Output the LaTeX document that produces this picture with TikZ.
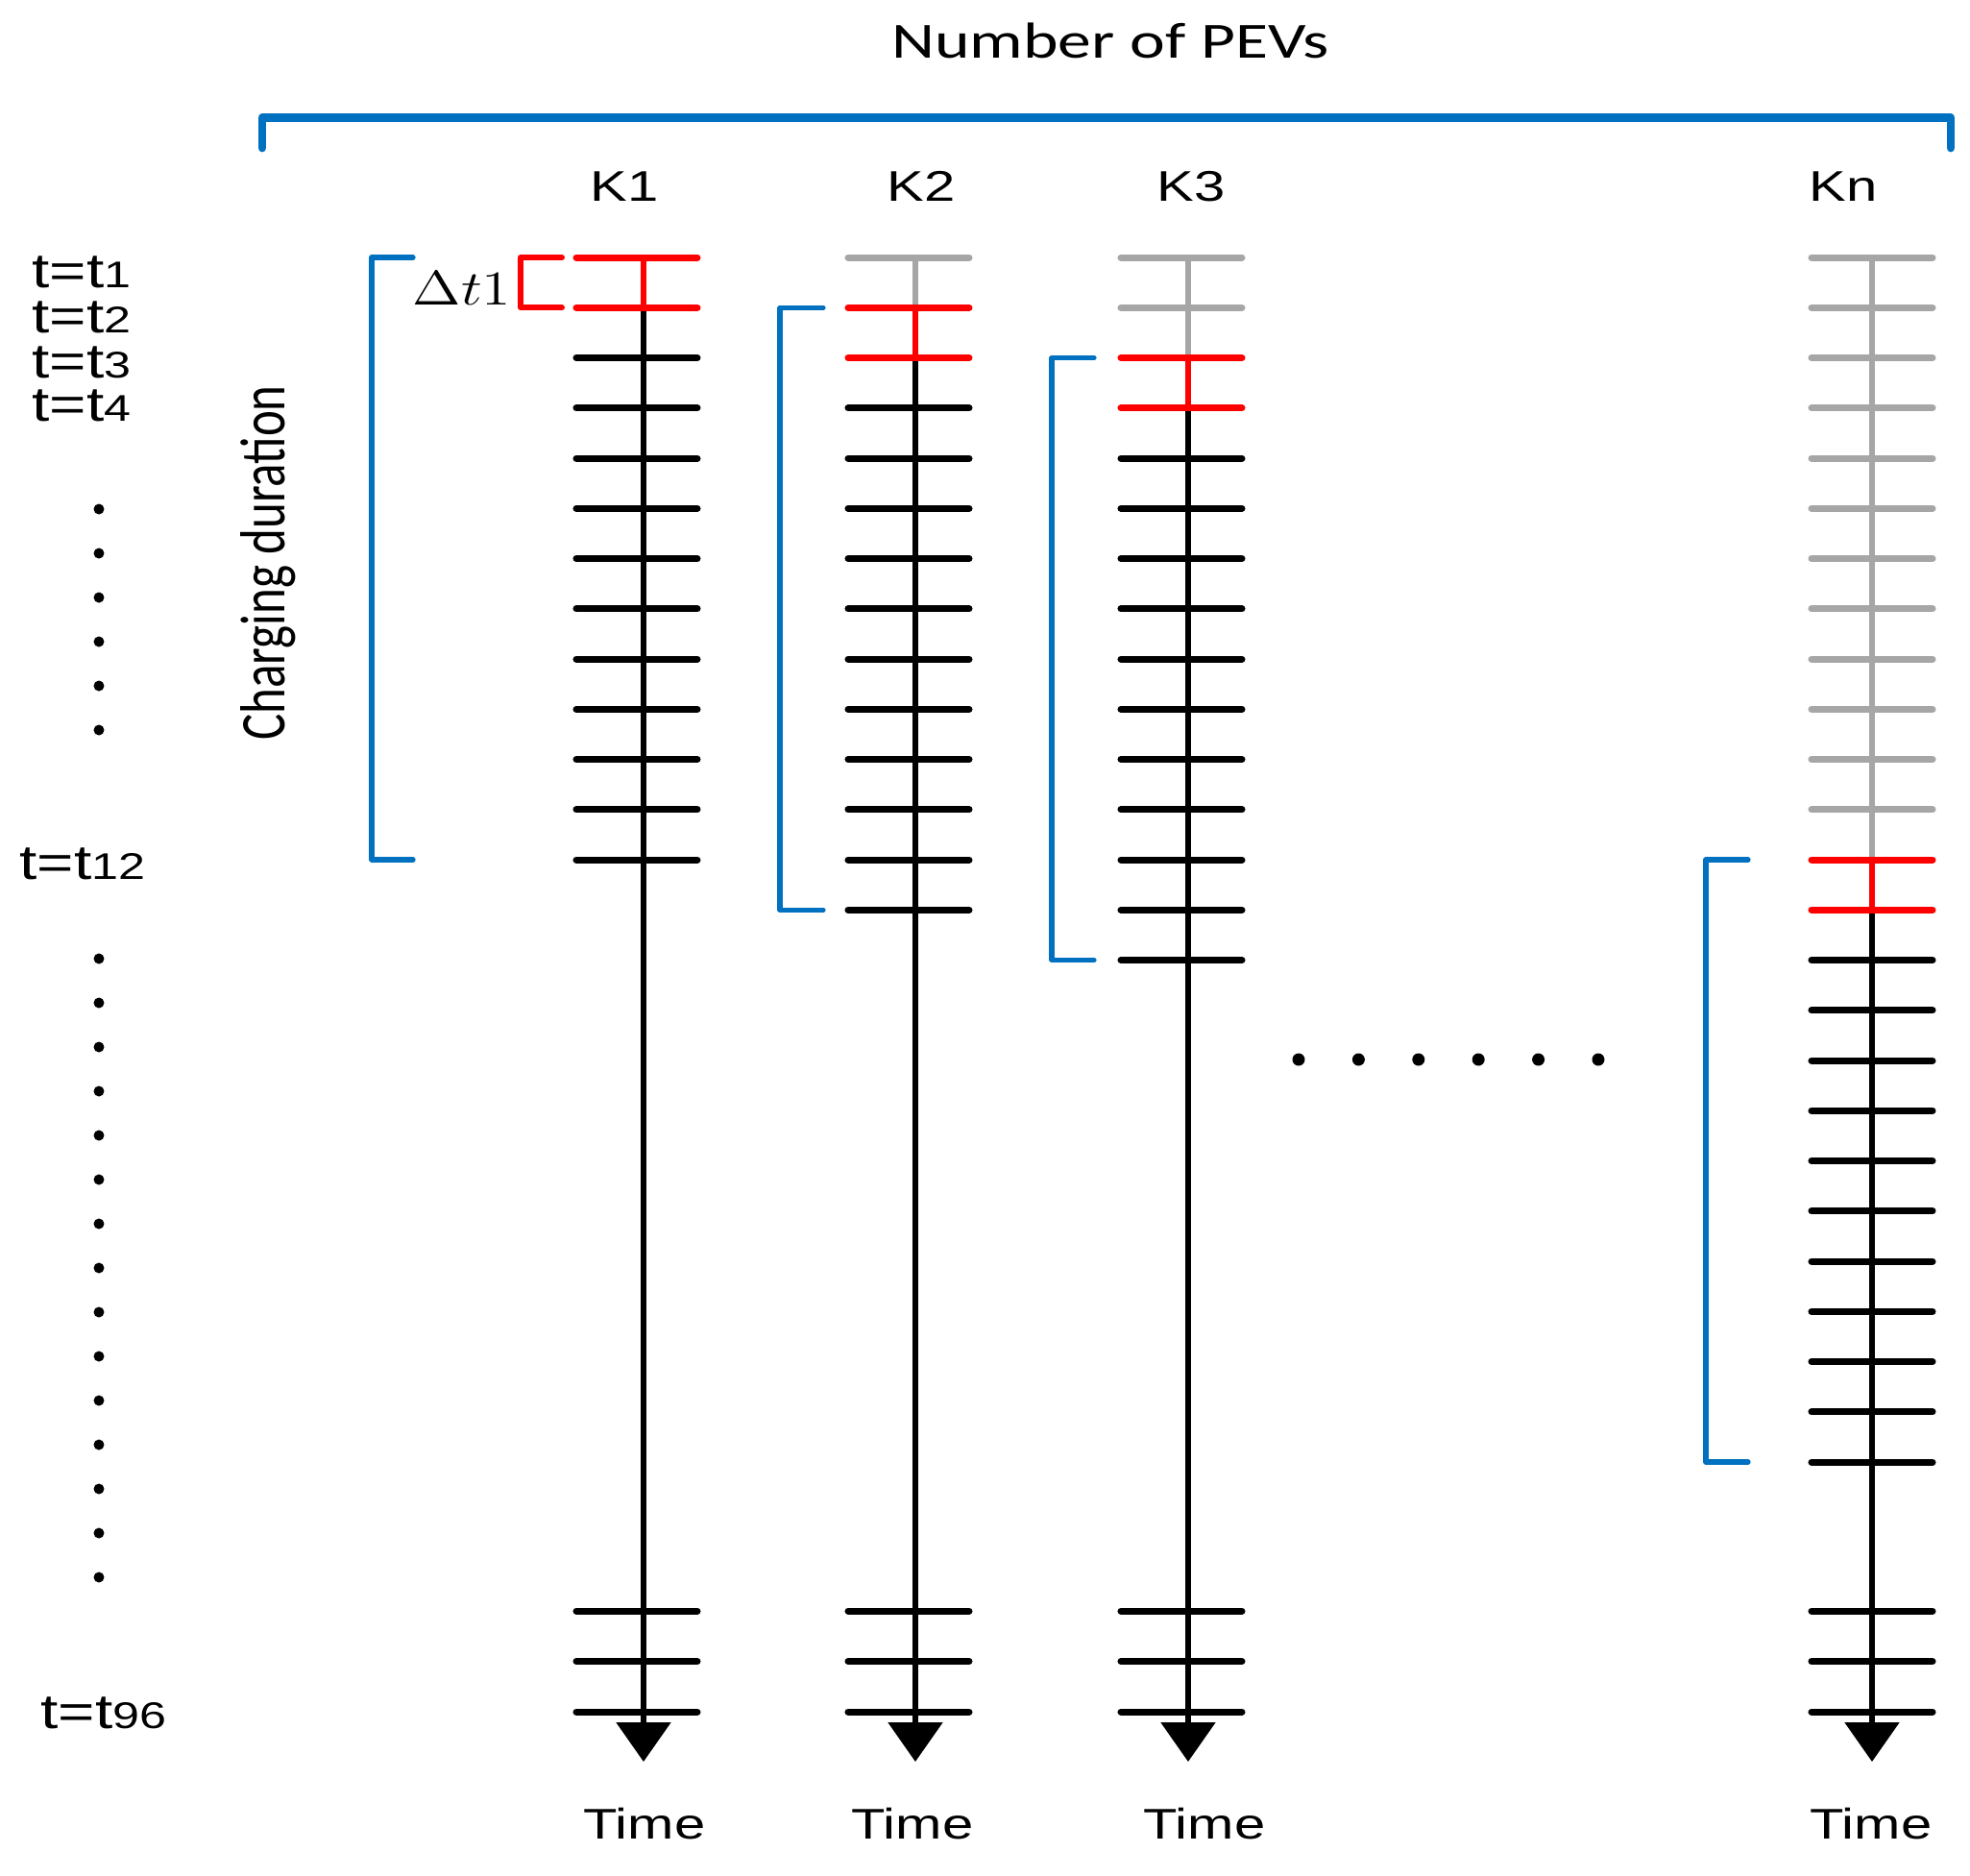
\documentclass[tikz,border=0pt]{standalone}
\usepackage{fontspec}
\usepackage{graphicx}
\usepackage{amsmath}
\setmainfont{Liberation Sans}
\newfontfamily\arialwide[FakeStretch=1.3]{Liberation Sans}
\newfontfamily\calwide[FakeStretch=1.32]{Carlito}
\newfontfamily\calfont{Carlito}
\usetikzlibrary{arrows.meta}

\definecolor{pevblue}{RGB}{0,112,192}
\definecolor{idlegray}{RGB}{166,166,166}

\tikzset{
    slot/.style={line width=2pt, line cap=round},
    timeline/.style={line width=1.6pt},
    span/.style={pevblue, line width=1.5pt, line cap=round, line join=round},
    evlabel/.style={font=\arialwide\fontsize{12.7}{15}\selectfont},
    tlabel/.style={anchor=base west, inner sep=0pt, font=\arialwide\fontsize{14.4}{16}\selectfont},
}
\newcommand{\tsub}[1]{{\fontsize{11}{12}\selectfont #1}}

\begin{document}
\begin{tikzpicture}
\useasboundingbox (0,0) rectangle (20.51,-19.53);

% Number of PEVs (top bracket)
\node[font=\calwide\fontsize{15}{18}\selectfont] (title) at (11.56,-0.42) {Number of PEVs};
\draw[span, line width=2.5pt] (2.73,-1.54) -- (2.73,-1.225) -- (20.31,-1.225) -- (20.31,-1.54);

% Time slot labels
\node[tlabel] (t1) at (0.33,-2.99) {t=t\tsub{1}};
\node[tlabel] (t2) at (0.33,-3.46) {t=t\tsub{2}};
\node[tlabel] (t3) at (0.33,-3.93) {t=t\tsub{3}};
\node[tlabel] (t4) at (0.33,-4.38) {t=t\tsub{4}};
\node[tlabel] (t12) at (0.20,-9.15) {t=t\tsub{12}};
\node[tlabel] (t96) at (0.42,-17.99) {t=t\tsub{96}};

% Dots between the time labels
\foreach \i in {0,...,5}
    \fill (1.03,{-5.30-0.46*\i}) circle (0.055);
\foreach \i in {0,...,14}
    \fill (1.03,{-9.98-0.46*\i}) circle (0.055);

% Dots between K3 and Kn
\foreach \i in {0,...,5}
    \fill ({13.52+0.624*\i},-11.03) circle (0.065);

% Charging duration
\node[rotate=90, font=\calfont\fontsize{14.5}{17}\selectfont] (chg) at (2.79,-5.86) {\scalebox{1}[1.3]{Charging duration}};

% Slot length
\node (dt) at (4.81,-3.00) {\scalebox{1.22}[1]{\fontsize{13.5}{16}\selectfont$\Delta t1$}};
\draw[red, line width=1.7pt, line cap=round, line join=round] (5.85,-2.68) -- (5.42,-2.68) -- (5.42,-3.2025) -- (5.85,-3.2025);

% PEV K1: charging from t1
\def\xK{6.70}
\node[evlabel] (k1) at (6.50,-1.94) {K1};
\draw[timeline, red] (\xK,-2.68) -- (\xK,-3.2025);
\draw[timeline, -{Triangle[length=0.41cm,width=0.56cm]}] (\xK,-3.2025) -- (\xK,-18.34);
\foreach \i in {0,1}
    \draw[slot, red] (\xK-0.70,{-2.68-0.5225*\i}) -- ++(1.26,0);
\foreach \i in {2,...,12}
    \draw[slot] (\xK-0.70,{-2.68-0.5225*\i}) -- ++(1.26,0);
\foreach \y in {16.77,17.295,17.82}
    \draw[slot] (\xK-0.70,-\y) -- ++(1.26,0);
\draw[span] (4.30,-2.68) -- (3.87,-2.68) -- (3.87,-8.95) -- (4.30,-8.95);
\node[evlabel] (time1) at (6.71,-18.99) {Time};

% PEV K2: charging from t2
\def\xK{9.53}
\node[evlabel] (k2) at (9.59,-1.94) {K2};
\draw[timeline, idlegray] (\xK,-2.68) -- (\xK,-3.2025);
\draw[timeline, red] (\xK,-3.2025) -- (\xK,-3.725);
\draw[timeline, -{Triangle[length=0.41cm,width=0.56cm]}] (\xK,-3.725) -- (\xK,-18.34);
\foreach \i in {0}
    \draw[slot, idlegray] (\xK-0.70,{-2.68-0.5225*\i}) -- ++(1.26,0);
\foreach \i in {1,2}
    \draw[slot, red] (\xK-0.70,{-2.68-0.5225*\i}) -- ++(1.26,0);
\foreach \i in {3,...,13}
    \draw[slot] (\xK-0.70,{-2.68-0.5225*\i}) -- ++(1.26,0);
\foreach \y in {16.77,17.295,17.82}
    \draw[slot] (\xK-0.70,-\y) -- ++(1.26,0);
\draw[span] (8.57,-3.2025) -- (8.12,-3.2025) -- (8.12,-9.4725) -- (8.57,-9.4725);
\node[evlabel] (time2) at (9.50,-18.99) {Time};

% PEV K3: charging from t3
\def\xK{12.37}
\node[evlabel] (k3) at (12.40,-1.94) {K3};
\draw[timeline, idlegray] (\xK,-2.68) -- (\xK,-3.725);
\draw[timeline, red] (\xK,-3.725) -- (\xK,-4.2475);
\draw[timeline, -{Triangle[length=0.41cm,width=0.56cm]}] (\xK,-4.2475) -- (\xK,-18.34);
\foreach \i in {0,1}
    \draw[slot, idlegray] (\xK-0.70,{-2.68-0.5225*\i}) -- ++(1.26,0);
\foreach \i in {2,3}
    \draw[slot, red] (\xK-0.70,{-2.68-0.5225*\i}) -- ++(1.26,0);
\foreach \i in {4,...,14}
    \draw[slot] (\xK-0.70,{-2.68-0.5225*\i}) -- ++(1.26,0);
\foreach \y in {16.77,17.295,17.82}
    \draw[slot] (\xK-0.70,-\y) -- ++(1.26,0);
\draw[span] (11.39,-3.725) -- (10.95,-3.725) -- (10.95,-9.995) -- (11.39,-9.995);
\node[evlabel] (time3) at (12.54,-18.99) {Time};

% PEV Kn: charging from t13
\def\xK{19.49}
\node[evlabel] (kn) at (19.19,-1.94) {Kn};
\draw[timeline, idlegray] (\xK,-2.68) -- (\xK,-8.95);
\draw[timeline, red] (\xK,-8.95) -- (\xK,-9.4725);
\draw[timeline, -{Triangle[length=0.41cm,width=0.56cm]}] (\xK,-9.4725) -- (\xK,-18.34);
\foreach \i in {0,...,11}
    \draw[slot, idlegray] (\xK-0.63,{-2.68-0.5225*\i}) -- ++(1.26,0);
\foreach \i in {12,13}
    \draw[slot, red] (\xK-0.63,{-2.68-0.5225*\i}) -- ++(1.26,0);
\foreach \i in {14,...,24}
    \draw[slot] (\xK-0.63,{-2.68-0.5225*\i}) -- ++(1.26,0);
\foreach \y in {16.77,17.295,17.82}
    \draw[slot] (\xK-0.63,-\y) -- ++(1.26,0);
\draw[span] (18.20,-8.95) -- (17.76,-8.95) -- (17.76,-15.22) -- (18.20,-15.22);
\node[evlabel] (timen) at (19.48,-18.99) {Time};

\end{tikzpicture}
\end{document}
